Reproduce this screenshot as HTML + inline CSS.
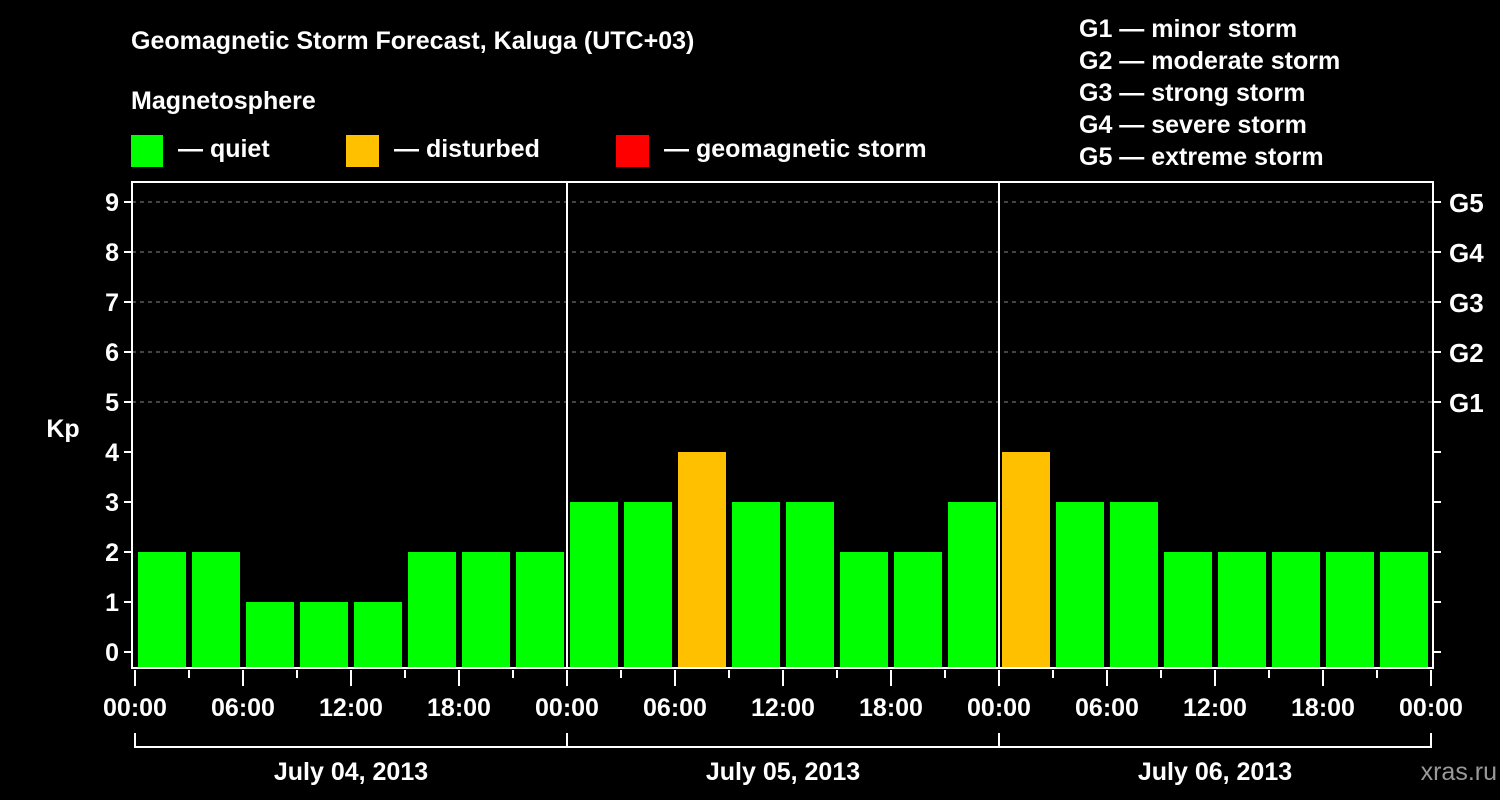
<!DOCTYPE html>
<html><head><meta charset="utf-8"><style>
body{margin:0;background:#000;}
svg{display:block;font-family:"Liberation Sans",Arial,sans-serif;font-weight:bold;}
</style></head><body>
<svg id="c" width="1500" height="800" xmlns="http://www.w3.org/2000/svg">
<rect width="1500" height="800" fill="#000"/>
<text x="131" y="49" font-size="25" fill="#fff">Geomagnetic Storm Forecast, Kaluga (UTC+03)</text>
<text x="131" y="109" font-size="25" fill="#fff">Magnetosphere</text>
<g><rect x="131" y="135" width="32" height="32" fill="#00ff00"/><text x="178" y="157" font-size="25" fill="#fff">— quiet</text></g>
<g><rect x="346" y="135" width="33" height="32" fill="#ffc000"/><text x="394" y="157" font-size="25" fill="#fff">— disturbed</text></g>
<g><rect x="616" y="135" width="33" height="32" fill="#ff0000"/><text x="664" y="157" font-size="25" fill="#fff">— geomagnetic storm</text></g>
<g font-size="25" fill="#fff">
<text x="1079" y="37">G1 — minor storm</text>
<text x="1079" y="69">G2 — moderate storm</text>
<text x="1079" y="101">G3 — strong storm</text>
<text x="1079" y="133">G4 — severe storm</text>
<text x="1079" y="165">G5 — extreme storm</text>
</g>
<text x="1497" y="780" font-size="25" fill="#999" text-anchor="end" font-weight="normal">xras.ru</text>
<text x="63" y="437" font-size="25" fill="#fff" text-anchor="middle">Kp</text>
<g id="grid"></g><g id="bars"></g><g id="axes"></g>
</svg>
<script>
const kpValues=[2,2,1,1,1,2,2,2, 3,3,4,3,3,2,2,3, 4,3,3,2,2,2,2,2];
const dayLabels=["July 04, 2013","July 05, 2013","July 06, 2013"];
const hourLabels=["00:00","06:00","12:00","18:00"];
const gLabels=["G1","G2","G3","G4","G5"];
const yTicks=[0,1,2,3,4,5,6,7,8,9];
const NS="http://www.w3.org/2000/svg";
const X0=135,DAY=432,L=132,R=1433,T=182,B=668;
const x=h=>X0+h*DAY/24;
const y=v=>652-50*v;
function mk(tag,attrs,parent,txt){const e=document.createElementNS(NS,tag);for(const k in attrs)e.setAttribute(k,attrs[k]);if(txt!==undefined)e.textContent=txt;document.getElementById(parent).appendChild(e);return e;}
// grid dashed lines for G levels
gLabels.forEach((g,i)=>{const v=5+i;
 const l=mk('line',{x1:L,x2:R,y1:y(v),y2:y(v),stroke:'#888','stroke-dasharray':'4,4','stroke-width':1},'grid');
 
 
 const t=mk('text',{x:1449,y:y(v)+10,'font-size':26,fill:'#fff'},'axes',g);
 
 
});
kpValues.forEach((v,i)=>{
 const c=v>=5?'#ff0000':(v>=4?'#ffc000':'#00ff00');
 const r=mk('rect',{x:x(i*3)+3,y:y(v),width:48,height:667-y(v),fill:c},'bars');
 
 
});
// axes frame
const fr=mk('rect',{x:L,y:T,width:R-L,height:B-T,fill:'none',stroke:'#fff','stroke-width':2},'axes');


// day separators
[1,2].forEach(d=>{const l=mk('line',{x1:x(24*d),x2:x(24*d),y1:T,y2:B,stroke:'#fff','stroke-width':2},'axes');
 
 });
yTicks.forEach(v=>{
 mk('line',{x1:L-8,x2:L,y1:y(v),y2:y(v),stroke:'#fff','stroke-width':2},'axes');
 mk('line',{x1:R,x2:R+8,y1:y(v),y2:y(v),stroke:'#fff','stroke-width':2},'axes');
 const t=mk('text',{x:L-13,y:y(v)+9,'font-size':25,fill:'#fff','text-anchor':'end'},'axes',String(v));
 
 
});
for(let h=0;h<=72;h+=3){
 const major=h%6===0;
 mk('line',{x1:x(h),x2:x(h),y1:B+2,y2:major?B+18:B+10,stroke:'#fff','stroke-width':2},'axes');
 if(major){const t=mk('text',{x:x(h),y:716,'font-size':25,fill:'#fff','text-anchor':'middle'},'axes',hourLabels[(h/6)%4]);
  
  }
}
mk('line',{x1:x(0),x2:x(72),y1:747,y2:747,stroke:'#fff','stroke-width':2},'axes');
for(let d=0;d<=3;d++)mk('line',{x1:x(24*d),x2:x(24*d),y1:733,y2:748,stroke:'#fff','stroke-width':2},'axes');
dayLabels.forEach((s,d)=>{const t=mk('text',{x:x(24*d+12),y:780,'font-size':25,fill:'#fff','text-anchor':'middle'},'axes',s);
 
 });
</script>
</body></html>
